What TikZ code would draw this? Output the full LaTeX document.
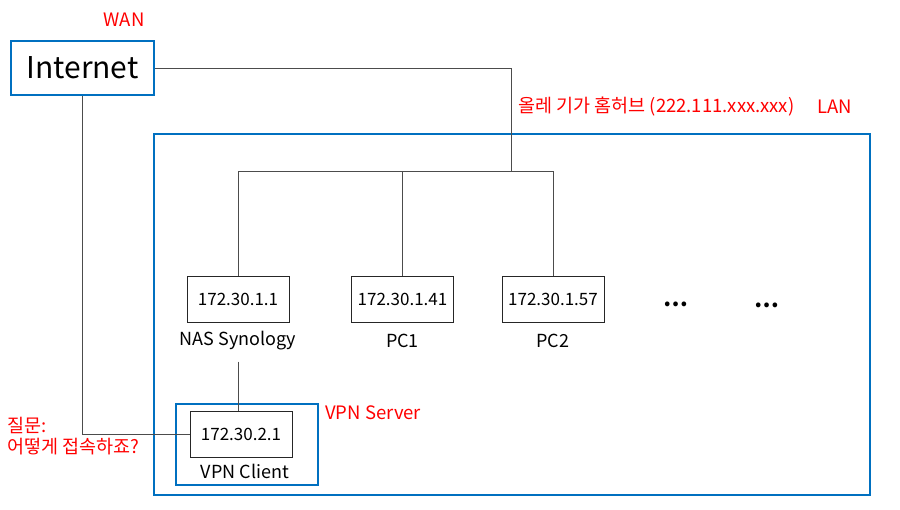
\documentclass[tikz,border=0pt]{standalone}
\usepackage{fontspec}
\setmainfont{Noto Sans CJK KR}
\definecolor{boxblue}{HTML}{0070C0}
\definecolor{redtxt}{HTML}{FF0000}
\begin{document}
\begin{tikzpicture}[x=1pt,y=-1pt,
  bluebox/.style={draw=boxblue, line width=2.4pt, inner sep=0pt},
  ipbox/.style={draw=black!85, line width=0.9pt, minimum width=102pt, minimum height=46pt, inner sep=0pt, font=\fontsize{17}{20}\selectfont},
  lbl/.style={inner sep=0pt, font=\fontsize{18}{20}\selectfont},
  redlbl/.style={inner sep=0pt, text=redtxt, font=\fontsize{18.5}{20}\selectfont},
  dotlbl/.style={inner sep=0pt, anchor=base, font=\fontsize{22}{24}\selectfont\bfseries},
  wire/.style={draw=black!70, line width=0.9pt}]
\useasboundingbox[fill=white] (0,0) rectangle (900,509);
% boxes
\node[bluebox, minimum width=716pt, minimum height=361pt] (lan) at (512,314.5) {};
\node[bluebox, minimum width=143pt, minimum height=54pt, font=\fontsize{30}{34}\selectfont] (inet) at (82.5,68) {Internet};
\node[ipbox] (nas) at (238,299) {172.30.1.1};
\node[ipbox] (pc1) at (402.5,299) {172.30.1.41};
\node[ipbox] (pc2) at (553,299) {172.30.1.57};
\node[lbl] (naslbl) at (238,341) {NAS Synology};
\node[lbl] (pc1lbl) at (402.5,341) {PC1};
\node[lbl] (pc2lbl) at (553,341) {PC2};
\node[dotlbl] (dots1) at (676,306) {…};
\node[dotlbl] (dots2) at (767,307) {…};
\node[bluebox, minimum width=142pt, minimum height=81pt] (vpnout) at (247,444.5) {};
\node[ipbox] (vpnin) at (241,434) {172.30.2.1};
\node[lbl] (vpnlbl) at (245,471) {VPN Client};
% red labels
\node[redlbl] (wan) at (124,20) {WAN};
\node[redlbl, anchor=west] (hubtxt) at (518,107) {올레 기가 홈허브 (222.111.xxx.xxx)};
\node[redlbl, anchor=west] (lantxt) at (817,107) {LAN};
\node[redlbl, anchor=west] (vpnsrv) at (325,413) {VPN Server};
\node[redlbl, anchor=west] (q1) at (7,425) {질문:};
\node[redlbl, anchor=west] (q2) at (7,447) {어떻게 접속하죠?};
% connectors
\coordinate (hub) at (511,171);
\draw[wire] (inet.east) -| (hub);
\draw[wire] (nas.north) -- (nas.north |- hub) -- (pc2.north |- hub) -- (pc2.north);
\draw[wire] (pc1.north) -- (pc1.north |- hub);
\draw[wire] ([yshift=-11pt]naslbl.south) -- (vpnin.north -| nas);
\draw[wire] (inet.south) |- (vpnin.west);
\end{tikzpicture}
\end{document}
